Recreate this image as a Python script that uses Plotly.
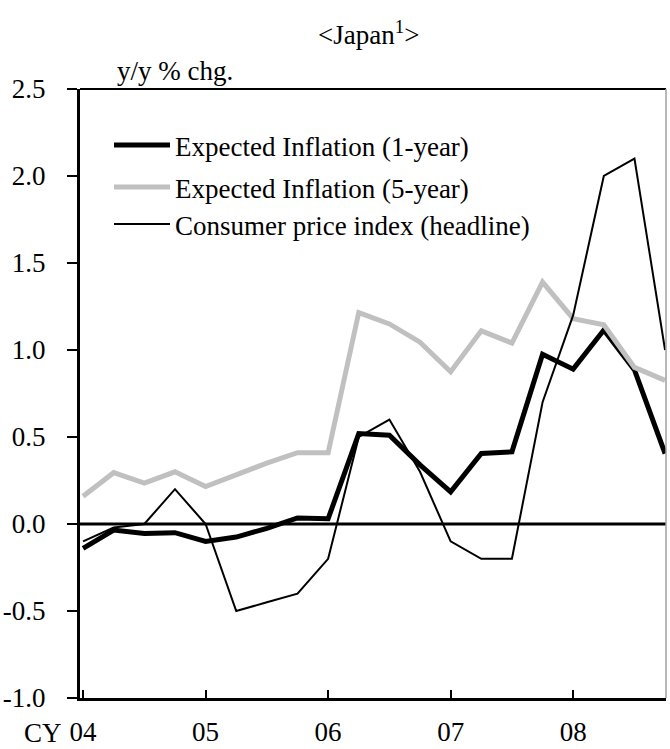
import plotly.graph_objects as go

# Quarterly observations, 2004 Q1 – 2008 Q4
quarters = [f"{y:02d}Q{q}" for y in range(4, 9) for q in range(1, 5)]

expected_1y = [-0.14, -0.035, -0.055, -0.05, -0.10, -0.075, -0.025, 0.035, 0.03, 0.52,
               0.51, 0.34, 0.185, 0.405, 0.415, 0.975, 0.89, 1.115, 0.885, 0.405]
expected_5y = [0.16, 0.295, 0.235, 0.30, 0.215, 0.285, 0.35, 0.41, 0.41, 1.215,
               1.15, 1.045, 0.875, 1.11, 1.04, 1.39, 1.18, 1.145, 0.90, 0.825]
cpi_headline = [-0.10, -0.02, 0.0, 0.2, 0.0, -0.5, -0.45, -0.4, -0.2, 0.5,
                0.6, 0.3, -0.1, -0.2, -0.2, 0.7, 1.2, 2.0, 2.1, 1.0]

series_names = ["Expected Inflation (1-year)", "Expected Inflation (5-year)",
                "Consumer price index (headline)"]

x_tick_vals = ["04Q1", "05Q1", "06Q1", "07Q1", "08Q1"]
x_tick_text = ["04", "05", "06", "07", "08"]
y_tick_vals = [-1.0, -0.5, 0.0, 0.5, 1.0, 1.5, 2.0, 2.5]
y_tick_text = ["-1.0", "-0.5", "0.0", "0.5", "1.0", "1.5", "2.0", "2.5"]

W, H = 670, 749
L, R, T, B = 80, 4, 89, 51
FONT = "Liberation Serif, Times New Roman, serif"
FS = 27

styles = [
    dict(color="#000000", width=5),
    dict(color="#c0c0c0", width=5),
    dict(color="#000000", width=2),
]

fig = go.Figure()
for name, vals, st in zip(series_names, [expected_1y, expected_5y, cpi_headline], styles):
    fig.add_trace(go.Scatter(x=quarters, y=vals, mode="lines", name=name,
                             line=dict(color=st["color"], width=st["width"]),
                             showlegend=False))


def px_x(px):
    return (px - L) / (W - L - R)


def px_y(py):
    return (H - B - py) / (H - T - B)


shapes = [
    # zero line
    dict(type="line", xref="paper", yref="y", x0=0, x1=1, y0=0, y1=0,
         line=dict(color="black", width=3)),
    # top frame
    dict(type="line", xref="paper", yref="paper", x0=0, x1=1, y0=1, y1=1,
         line=dict(color="black", width=2)),
    # right frame
    dict(type="line", xref="paper", yref="paper", x0=1, x1=1, y0=0, y1=1,
         line=dict(color="#a0a0a0", width=1.5)),
]

annotations = []
# legend block
legend_rows = [145, 187, 224]
for name, st, py in zip(series_names, styles, legend_rows):
    shapes.append(dict(type="line", xref="paper", yref="paper",
                       x0=px_x(114), x1=px_x(170), y0=px_y(py), y1=px_y(py),
                       line=dict(color=st["color"], width=st["width"])))
    annotations.append(dict(x=px_x(173), y=px_y(py + 2), xref="paper", yref="paper",
                            text=name, showarrow=False, xanchor="left", yanchor="middle",
                            font=dict(family=FONT, size=FS, color="black")))

annotations += [
    dict(x=px_x(368), y=px_y(33), xref="paper", yref="paper",
         text="&lt;Japan<sup>1</sup>&gt;", showarrow=False,
         xanchor="center", yanchor="middle",
         font=dict(family=FONT, size=FS, color="black")),
    dict(x=px_x(115), y=px_y(71), xref="paper", yref="paper",
         text="y/y % chg.", showarrow=False, xanchor="left", yanchor="middle",
         font=dict(family=FONT, size=FS, color="black")),
    dict(x=px_x(63), y=px_y(733), xref="paper", yref="paper",
         text="CY", showarrow=False, xanchor="right", yanchor="middle",
         borderpad=0,
         font=dict(family=FONT, size=FS, color="black")),
]

fig.update_layout(
    width=W, height=H,
    margin=dict(l=L, r=R, t=T, b=B, autoexpand=False),
    paper_bgcolor="white", plot_bgcolor="white",
    font=dict(family=FONT, size=FS, color="black"),
    shapes=shapes, annotations=annotations,
    xaxis=dict(
        type="category", range=[-0.1, 19.03], automargin=False,
        tickmode="array", tickvals=x_tick_vals, ticktext=x_tick_text,
        ticks="inside", ticklen=8, tickwidth=2, tickcolor="black",
        showline=True, linecolor="black", linewidth=3,
        showgrid=False, zeroline=False, ticklabelstandoff=8,
        tickfont=dict(family=FONT, size=FS),
    ),
    yaxis=dict(
        range=[-1.0, 2.5], automargin=False,
        tickmode="array", tickvals=y_tick_vals, ticktext=y_tick_text,
        ticks="outside", ticklen=10, tickwidth=2, tickcolor="black",
        showline=True, linecolor="black", linewidth=3,
        showgrid=False, zeroline=False, ticklabelstandoff=16,
        tickfont=dict(family=FONT, size=FS),
    ),
)

fig.write_html("out.html")
